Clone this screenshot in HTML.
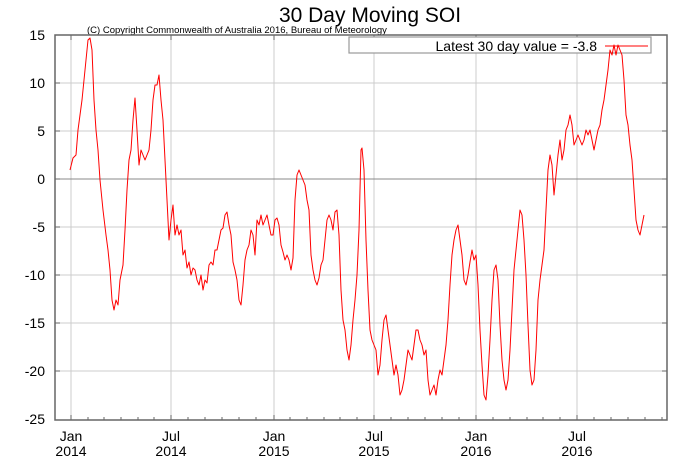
<!DOCTYPE html>
<html><head><style>body{margin:0;background:#fff}svg{display:block}text{font-family:"Liberation Sans",sans-serif}</style></head><body>
<svg width="685" height="457" viewBox="0 0 685 457" xmlns="http://www.w3.org/2000/svg">
<rect width="685" height="457" fill="#fff"/>
<text x="370" y="22" font-size="21" text-anchor="middle">30 Day Moving SOI</text>
<text x="87" y="33" font-size="9.5">(C) Copyright Commonwealth of Australia 2016, Bureau of Meteorology</text>
<g stroke="#ccc" stroke-width="1">
<line x1="55" y1="83" x2="667" y2="83"/><line x1="55" y1="131" x2="667" y2="131"/>
<line x1="55" y1="227" x2="667" y2="227"/><line x1="55" y1="275" x2="667" y2="275"/>
<line x1="55" y1="323" x2="667" y2="323"/><line x1="55" y1="371" x2="667" y2="371"/>
<line x1="71" y1="35" x2="71" y2="420"/><line x1="171" y1="35" x2="171" y2="420"/>
<line x1="274" y1="35" x2="274" y2="420"/><line x1="374" y1="35" x2="374" y2="420"/>
<line x1="476" y1="35" x2="476" y2="420"/><line x1="577" y1="35" x2="577" y2="420"/>
</g>
<line x1="55" y1="179" x2="667" y2="179" stroke="#888" stroke-width="1"/>
<rect x="55" y="35" width="612" height="385" fill="none" stroke="#666" stroke-width="1.5"/>
<g stroke="#666" stroke-width="1">
<path d="M71 420v-5M88 420v-3M104 420v-3M121 420v-3M138 420v-3M154 420v-3M171 420v-5M188 420v-3M205 420v-3M222 420v-3M239 420v-3M256 420v-3M274 420v-5M290 420v-3M307 420v-3M324 420v-3M340 420v-3M357 420v-3M374 420v-5M391 420v-3M408 420v-3M425 420v-3M442 420v-3M459 420v-3M476 420v-5M493 420v-3M510 420v-3M527 420v-3M543 420v-3M560 420v-3M577 420v-5M594 420v-3M611 420v-3M628 420v-3M645 420v-3M662 420v-3"/>
<path d="M71 35v5M171 35v5M274 35v5M374 35v5M476 35v5M577 35v5"/>
<path d="M55 35h5M55 83h5M55 131h5M55 179h5M55 227h5M55 275h5M55 323h5M55 371h5M55 420h5M667 35h-5M667 83h-5M667 131h-5M667 179h-5M667 227h-5M667 275h-5M667 323h-5M667 371h-5"/>
</g>
<g font-size="14" text-anchor="end">
<text x="45" y="40">15</text><text x="45" y="88">10</text><text x="45" y="136">5</text><text x="45" y="184">0</text>
<text x="45" y="232">-5</text><text x="45" y="280">-10</text><text x="45" y="328">-15</text><text x="45" y="376">-20</text><text x="45" y="424">-25</text>
</g>
<g font-size="14" text-anchor="middle">
<text x="71" y="441">Jan</text><text x="71" y="456">2014</text>
<text x="171" y="441">Jul</text><text x="171" y="456">2014</text>
<text x="274" y="441">Jan</text><text x="274" y="456">2015</text>
<text x="374" y="441">Jul</text><text x="374" y="456">2015</text>
<text x="476" y="441">Jan</text><text x="476" y="456">2016</text>
<text x="577" y="441">Jul</text><text x="577" y="456">2016</text>
</g>
<rect x="349" y="37" width="302" height="16" fill="#fff" stroke="#999" stroke-width="1.2"/>
<text x="597" y="51" font-size="14" text-anchor="end">Latest 30 day value = -3.8</text>
<line x1="605" y1="46" x2="648" y2="46" stroke="#f00" stroke-width="1"/>
<polyline fill="none" stroke="#f00" stroke-width="1" stroke-linejoin="round" points="70,170 73,158 76,155 78,130 82,100 85,70 88,40 90,38 92,50 94,100 96,130 98,150 100,180 103,210 106,235 108,250 110,270 112,300 114,310 116,300 118,305 120,280 123,265 125,230 127,190 129,160 131,150 133,120 135,98 137,130 139,165 141,150 143,155 145,160 147,155 149,150 151,130 153,100 155,85 157,85 159,75 161,100 163,120 165,160 167,200 169,240 171,220 173,205 175,235 177,225 179,235 181,230 183,255 185,250 187,268 189,262 191,275 193,268 195,270 197,280 199,285 201,275 203,290 205,280 207,283 209,265 211,262 213,265 215,250 217,250 219,240 221,230 223,228 225,215 227,212 229,225 231,235 233,262 235,270 237,280 239,300 241,305 243,285 245,260 247,250 249,245 251,230 253,235 255,255 257,220 259,225 261,215 263,225 265,220 267,215 269,225 271,235 273,235 275,220 277,218 279,225 281,245 283,252 285,260 287,255 289,260 291,270 293,258 295,200 297,175 299,170 301,175 303,180 305,185 307,200 309,210 311,255 313,270 315,280 317,285 319,278 321,265 323,260 325,240 327,220 329,215 331,220 333,230 335,212 337,210 339,235 341,290 343,320 345,330 347,350 349,360 351,345 353,320 355,300 357,275 359,230 361,150 362,148 364,170 366,240 368,290 370,330 372,340 374,345 376,350 378,375 380,365 382,340 384,320 386,315 388,330 390,345 392,360 394,375 396,365 398,375 400,395 402,390 404,380 406,365 408,350 410,355 412,360 414,345 416,330 418,330 420,340 422,345 424,355 426,350 428,380 430,395 432,390 434,385 436,395 438,380 440,370 442,375 444,360 446,345 448,320 450,285 452,255 454,240 456,230 458,225 460,240 462,255 464,280 466,285 468,275 470,262 472,250 474,260 476,255 478,285 480,330 482,365 484,395 486,400 488,375 490,340 492,300 494,270 496,265 498,280 500,325 502,360 504,380 506,390 508,380 510,350 512,310 514,270 516,250 518,230 520,210 522,215 524,240 526,275 528,325 530,370 532,385 534,380 536,350 538,300 540,280 542,265 544,250 546,210 548,170 550,155 552,165 554,195 556,175 558,155 560,140 562,160 564,150 566,130 568,125 570,115 572,125 574,145 576,140 578,135 580,140 582,145 584,140 586,130 588,135 590,130 592,140 594,150 596,140 598,130 600,125 602,110 604,100 606,85 608,70 610,50 612,55 614,45 616,55 618,45 620,50 622,55 624,80 626,115 628,125 630,145 632,160 634,190 636,220 638,230 640,235 642,225 644,215"/>
</svg>
</body></html>
